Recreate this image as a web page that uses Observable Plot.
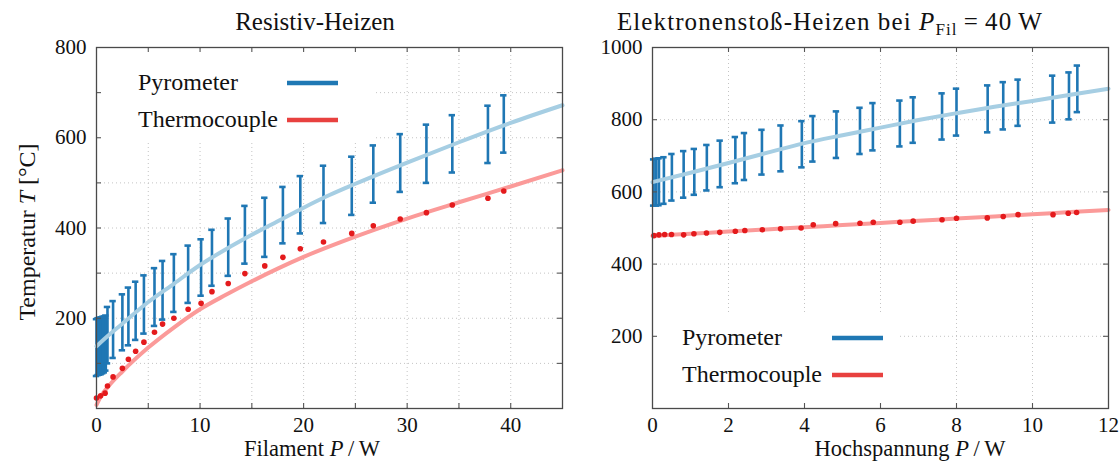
<!DOCTYPE html>
<html><head><meta charset="utf-8">
<script src="https://cdn.jsdelivr.net/npm/d3@7"></script>
<script src="https://cdn.jsdelivr.net/npm/@observablehq/plot@0.6"></script>
<style>
body{margin:0;background:#fff;}
#wrap{position:relative;width:1120px;height:461px;background:#fff;}
#wrap svg{position:absolute;top:0;overflow:visible;}
</style></head><body><div id="wrap"></div>
<script>
// ---------- Resistiv-Heizen (left) ----------
const resBarP  = [0, 0.15, 0.3, 0.45, 0.6, 0.75, 0.9, 1.06, 1.6, 2.5, 3.08, 3.78, 4.58, 5.6, 6.38, 7.47, 8.85, 10.1, 11.15, 12.72, 14.33, 16.25, 18.0, 19.68, 21.92, 24.65, 26.73, 29.33, 31.86, 34.36, 37.8, 39.33];
const resPyroLo = [72, 74, 75, 76, 78, 80, 84, 100, 112, 129, 140, 152, 166, 183, 197, 214, 234, 250, 272, 294, 321, 336, 366, 388, 411, 429, 456, 480, 500, 523, 544, 567];
const resPyroHi = [198, 200, 201, 202, 203, 204, 206, 225, 238, 253, 268, 281, 295, 311, 327, 342, 361, 375, 396, 421, 449, 467, 491, 515, 538, 558, 583, 608, 629, 650, 671, 694];
const resTcP = [0, 0.4, 0.83, 1.06, 1.6, 2.5, 3.08, 3.78, 4.58, 5.6, 6.38, 7.47, 8.85, 10.1, 11.15, 12.72, 14.33, 16.25, 18.0, 19.68, 21.92, 24.65, 26.73, 29.33, 31.86, 34.36, 37.8, 39.33];
const resTcT = [23, 28, 34, 50, 70, 89, 109, 127, 147, 169, 187, 200, 220, 233, 259, 277, 299, 316, 335, 354, 369, 388, 405, 420, 434, 451, 466, 482];
const resFitPyroP = [0, 1, 2.5, 5, 7.5, 10, 12.5, 15, 17.5, 20, 22.5, 25, 30, 35, 40, 45];
const resFitPyroT = [138, 159, 188, 236, 277, 318, 353, 385, 415, 445, 473, 498, 545, 590, 633, 672];
const resFitTcP = [0, 0.5, 1, 2.5, 5, 7.5, 10, 12.5, 15, 17.5, 20, 25, 30, 35, 40, 45];
const resFitTcT = [8, 30, 45, 82, 135, 180, 220, 252, 282, 310, 336, 381, 421, 457, 492, 528];
const resXTicks = [0, 10, 20, 30, 40];
const resXMinor = [5, 10, 15, 20, 25, 30, 35, 40];
const resYTicks = [200, 400, 600, 800];
const resYMinor = [100, 200, 300, 400, 500, 600, 700];

// ---------- Elektronenstoß-Heizen (right) ----------
const hvBarP = [0.03, 0.1, 0.17, 0.3, 0.51, 0.82, 1.1, 1.43, 1.78, 2.18, 2.42, 2.88, 3.38, 3.93, 4.22, 4.84, 5.46, 5.8, 6.51, 6.86, 7.62, 8.0, 8.82, 9.23, 9.62, 10.53, 10.96, 11.18];
const hvPyroLo = [562, 562, 563, 567, 576, 584, 592, 604, 613, 624, 633, 648, 657, 668, 684, 694, 705, 715, 726, 736, 745, 756, 765, 773, 783, 792, 801, 821];
const hvPyroHi = [690, 692, 693, 696, 705, 713, 719, 730, 742, 752, 763, 772, 784, 796, 810, 823, 833, 846, 853, 862, 873, 886, 895, 904, 911, 922, 931, 950];
const hvTcP = [0.04, 0.17, 0.32, 0.5, 0.82, 1.09, 1.42, 1.77, 2.18, 2.43, 2.89, 3.37, 3.91, 4.23, 4.82, 5.46, 5.81, 6.51, 6.86, 7.62, 8.0, 8.81, 9.23, 9.62, 10.54, 10.94, 11.16];
const hvTcT = [479, 481, 482, 482, 481, 484, 486, 488, 491, 493, 495, 498, 500, 509, 512, 513, 516, 516, 519, 523, 527, 528, 532, 537, 537, 541, 543];
const hvFitP = [0, 1, 2, 3, 4, 5, 6, 7, 8, 9, 10, 11, 12];
const hvFitPyroT = [627, 653, 680, 708, 735, 757, 778, 799, 818, 836, 852, 869, 886];
const hvFitTcT = [478, 484, 490, 496, 502, 508, 514, 520, 526, 532, 538, 544, 550];
const hvXTicks = [0, 2, 4, 6, 8, 10, 12];
const hvXMinor = [2, 4, 6, 8, 10];
const hvYTicks = [200, 400, 600, 800, 1000];
const hvYMinor = [200, 400, 600, 800];

const FONT = '"Liberation Serif", "Times New Roman", serif';
const BLUE = "#1f77b4", LBLUE = "#a6cee3", RED = "#e41a1c", LRED = "#fb9a99", LEG_RED = "#e8413f", LEG_BLUE = "#1f78b4";
const H = 461, MT = 47, MB = 53;

function panel(c) {
  const bars = c.barP.map((p, i) => ({p, lo: c.lo[i], hi: c.hi[i]}));
  const dots = c.tcP.map((p, i) => ({p, t: c.tcT[i]}));
  const fitPy = c.fitPyP.map((p, i) => ({p, t: c.fitPyT[i]}));
  const fitTc = c.fitTcP.map((p, i) => ({p, t: c.fitTcT[i]}));
  const fw = c.width - c.mL - c.mR, fh = H - MT - MB;
  const tickStyle = {stroke: "#555", strokeWidth: 1.1};
  return Plot.plot({
    width: c.width, height: H,
    marginLeft: c.mL, marginRight: c.mR, marginTop: MT, marginBottom: MB,
    style: {fontFamily: FONT, fontSize: "20px", color: "#111", background: "transparent", overflow: "visible"},
    x: {domain: c.xDomain, label: null},
    y: {domain: c.yDomain, label: null},
    marks: [
      Plot.gridX({ticks: c.xMinor, stroke: "#c4c4c4", strokeOpacity: 1, strokeWidth: 1, strokeDasharray: "1,3"}),
      Plot.gridY({ticks: c.yMinor, stroke: "#c4c4c4", strokeOpacity: 1, strokeWidth: 1, strokeDasharray: "1,3"}),
      Plot.frame({fill: "white", stroke: null, ...c.legendBox}),
      Plot.ruleX(bars, {x: "p", y1: "lo", y2: "hi", stroke: BLUE, strokeWidth: 2.6}),
      Plot.ruleY(bars, {y: "lo", x1: "p", x2: "p", insetLeft: -3.2, insetRight: -3.2, stroke: BLUE, strokeWidth: 2.6}),
      Plot.ruleY(bars, {y: "hi", x1: "p", x2: "p", insetLeft: -3.2, insetRight: -3.2, stroke: BLUE, strokeWidth: 2.6}),
      Plot.line(fitTc, {x: "p", y: "t", stroke: LRED, strokeWidth: 4, curve: "monotone-x"}),
      Plot.line(fitPy, {x: "p", y: "t", stroke: LBLUE, strokeWidth: 4, curve: "monotone-x"}),
      Plot.dot(dots, {x: "p", y: "t", r: 2.8, fill: RED, stroke: null}),
      Plot.tickX(c.xMinor, {x: d => d, insetTop: fh - 5, ...tickStyle}),
      Plot.tickX(c.xMinor, {x: d => d, insetBottom: fh - 5, ...tickStyle}),
      Plot.tickY(c.yMinor, {y: d => d, insetRight: fw - 5, ...tickStyle}),
      Plot.tickY(c.yMinor, {y: d => d, insetLeft: fw - 5, ...tickStyle}),
      Plot.frame({stroke: "#4a4a4a", strokeWidth: 1.3}),
      Plot.axisX({ticks: c.xTicks, tickSize: 0, tickPadding: 9, label: null, tickFormat: d => String(d), fontSize: 21}),
      Plot.axisY({ticks: c.yTicks, tickSize: 0, tickPadding: 10, label: null, tickFormat: d => String(d), fontSize: 21})
    ]
  });
}

function addText(svg, x, y, parts, opts = {}) {
  const t = svg.append("text")
    .attr("x", x).attr("y", y)
    .attr("text-anchor", opts.anchor || "start")
    .attr("font-family", FONT)
    .attr("font-size", opts.size || 24)
    .attr("fill", "#111");
  if (opts.spacing) t.attr("letter-spacing", opts.spacing);
  if (opts.transform) t.attr("transform", opts.transform).attr("x", 0).attr("y", 0);
  for (const p of parts) {
    const s = t.append("tspan").text(p.t);
    if (p.i) s.attr("font-style", "italic");
    if (p.dy) s.attr("dy", p.dy);
    if (p.size) s.attr("font-size", p.size);
  }
  return t;
}

function legend(svg, x, yTop, lineX1, lineX2) {
  const items = [{name: "Pyrometer", color: LEG_BLUE}, {name: "Thermocouple", color: LEG_RED}];
  items.forEach((it, i) => {
    const yb = yTop + i * 37;
    addText(svg, x, yb, [{t: it.name}], {size: 24});
    svg.append("line").attr("x1", lineX1).attr("x2", lineX2)
      .attr("y1", yb - 7).attr("y2", yb - 7)
      .attr("stroke", it.color).attr("stroke-width", 4.5);
  });
}

const wrap = d3.select("#wrap");

// left
const left = panel({
  width: 566, mL: 96, mR: 4,
  xDomain: [0, 45], yDomain: [0, 800],
  xTicks: resXTicks, xMinor: resXMinor, yTicks: resYTicks, yMinor: resYMinor,
  barP: resBarP, lo: resPyroLo, hi: resPyroHi,
  tcP: resTcP, tcT: resTcT,
  fitPyP: resFitPyroP, fitPyT: resFitPyroT, fitTcP: resFitTcP, fitTcT: resFitTcT,
  legendBox: {insetRight: 189, insetBottom: 268}
});
left.style.left = "0px";
wrap.node().appendChild(left);
const ls = d3.select(left);
addText(ls, 315, 30, [{t: "Resistiv-Heizen"}], {anchor: "middle", size: 25});
addText(ls, 0, 0, [{t: "Temperatur "}, {t: "T", i: true}, {t: " [°C]"}], {anchor: "middle", size: 24, transform: "translate(35,232) rotate(-90)"});
addText(ls, 312, 456, [{t: "Filament "}, {t: "P", i: true}, {t: "\u2009/\u2009W"}], {anchor: "middle", size: 22.5});
legend(ls, 138, 90, 287, 338);

// right
const right = panel({
  width: 554, mL: 86, mR: 12,
  xDomain: [0, 12], yDomain: [0, 1000],
  xTicks: hvXTicks, xMinor: hvXMinor, yTicks: hvYTicks, yMinor: hvYMinor,
  barP: hvBarP, lo: hvPyroLo, hi: hvPyroHi,
  tcP: hvTcP, tcT: hvTcT,
  fitPyP: hvFitP, fitPyT: hvFitPyroT, fitTcP: hvFitP, fitTcT: hvFitTcT,
  legendBox: {insetRight: 211, insetTop: 265}
});
right.style.left = "566px";
wrap.node().appendChild(right);
const rs = d3.select(right);
addText(rs, 830 - 566, 30, [{t: "Elektronenstoß-Heizen bei "}, {t: "P", i: true}, {t: "Fil", size: 17, dy: 5}, {t: "\u2009=\u200940\u2009W", dy: -5}], {anchor: "middle", size: 25, spacing: 1.1});
addText(rs, 910 - 566, 456, [{t: "Hochspannung "}, {t: "P", i: true}, {t: "\u2009/\u2009W"}], {anchor: "middle", size: 22.5});
legend(rs, 682 - 566, 345, 832 - 566, 883 - 566);
</script></body></html>
